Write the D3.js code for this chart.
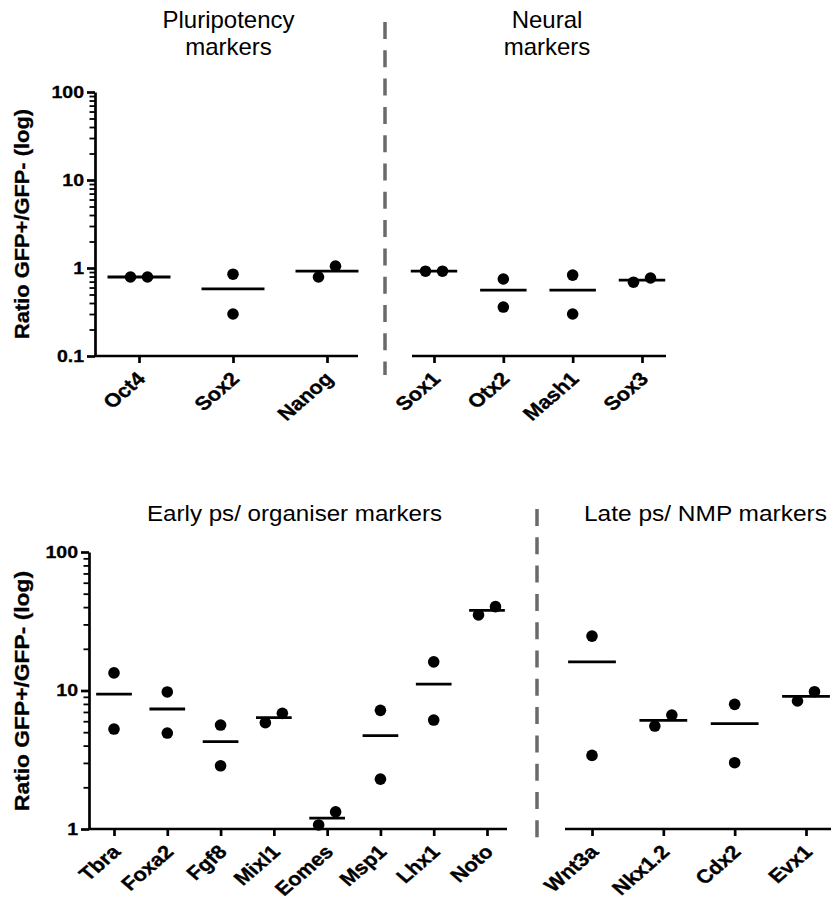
<!DOCTYPE html>
<html>
<head>
<meta charset="utf-8">
<script src="https://cdn.jsdelivr.net/npm/d3@7"></script>
<style>
  html, body { margin: 0; padding: 0; background: #fff; }
  svg { display: block; }
  text { font-family: "Liberation Sans", Arial, Helvetica, sans-serif; fill: #000; }
</style>
</head>
<body>
<svg id="chart" width="831" height="910"></svg>
<script>
// ---------- DATA ----------
const pluriCats  = ["Oct4", "Sox2", "Nanog"];
const pluriRep1  = [0.79, 0.85, 0.79];
const pluriRep2  = [0.79, 0.30, 1.05];
const pluriMean  = [0.79, 0.58, 0.92];

const neuralCats = ["Sox1", "Otx2", "Mash1", "Sox3"];
const neuralRep1 = [0.92, 0.75, 0.83, 0.69];
const neuralRep2 = [0.92, 0.36, 0.30, 0.77];
const neuralMean = [0.92, 0.56, 0.56, 0.73];

const earlyCats  = ["Tbra", "Foxa2", "Fgf8", "Mixl1", "Eomes", "Msp1", "Lhx1", "Noto"];
const earlyRep1  = [13.4, 9.76, 5.63, 5.86, 1.07, 7.19, 16.1, 35.1];
const earlyRep2  = [5.27, 4.93, 2.86, 6.84, 1.33, 2.29, 6.12, 40.3];
const earlyMean  = [9.4, 7.35, 4.27, 6.36, 1.2, 4.72, 11.1, 37.9];

const lateCats   = ["Wnt3a", "Nkx1.2", "Cdx2", "Evx1"];
const lateRep1   = [24.7, 5.54, 7.94, 8.4];
const lateRep2   = [3.4, 6.65, 3.01, 9.8];
const lateMean   = [16.1, 6.09, 5.76, 9.08];

const topTicks    = [0.1, 1, 10, 100];
const bottomTicks = [1, 10, 100];

const titlesTop    = [["Pluripotency", "markers"], ["Neural", "markers"]];
const titlesBottom = ["Early ps/ organiser markers", "Late ps/ NMP markers"];
const yLabel = "Ratio GFP+/GFP- (log)";

// ---------- LAYOUT ----------
const svg = d3.select("#chart");
const AX = 2.7;          // axis stroke width
const R = 5.8;           // dot radius
const DODGE = 8.5;

const yTop = d3.scaleLog().domain([0.1, 100]).range([356, 92]);
const yBot = d3.scaleLog().domain([1, 100]).range([829, 552]);

function minorValues(domain) {
  const out = [];
  for (let d = domain[0]; d < domain[1]; d *= 10) {
    for (let k = 2; k <= 9; k++) out.push(d * k);
  }
  return out;
}

function drawYAxis(y, xPos, ticks, labelCenterY) {
  const g = svg.append("g").attr("transform", `translate(${xPos},0)`);
  // minor ticks
  g.append("g")
    .call(d3.axisLeft(y).tickValues(minorValues(y.domain())).tickSize(5.5).tickSizeOuter(0).tickFormat(""))
    .call(s => s.select(".domain").remove())
    .call(s => s.selectAll("line").attr("stroke", "#000").attr("stroke-width", 1.8));
  // major ticks
  const maj = g.append("g")
    .call(d3.axisLeft(y).tickValues(ticks).tickSize(8).tickSizeOuter(0).tickPadding(1.5).tickFormat(d => String(d)));
  maj.select(".domain").attr("stroke", "#000").attr("stroke-width", AX);
  maj.selectAll(".tick line").attr("stroke", "#000").attr("stroke-width", AX);
  maj.selectAll(".tick text")
    .attr("font-size", 17).attr("font-weight", "bold")
    .attr("font-family", "'Liberation Sans', Arial, sans-serif")
    .attr("stroke", "#000").attr("stroke-width", 0.3)
    .attr("transform", "scale(1.15,1)");
  // y label
  svg.append("text")
    .attr("transform", `translate(29,${labelCenterY}) rotate(-90)`)
    .attr("text-anchor", "middle")
    .attr("font-size", 20).attr("font-weight", "bold")
    .attr("stroke", "#000").attr("stroke-width", 0.3)
    .attr("textLength", labelCenterY < 400 ? 230 : 240)
    .attr("lengthAdjust", "spacingAndGlyphs")
    .text(yLabel);
}

function drawPanel(cats, rep1, rep2, mean, y, first, last, lineStart, lineEnd) {
  const x = d3.scalePoint().domain(cats).range([first, last]);
  const step = x.step();
  const axisY = y.range()[0];
  const g = svg.append("g");

  // x axis line
  g.append("line")
    .attr("x1", lineStart).attr("x2", lineEnd)
    .attr("y1", axisY).attr("y2", axisY)
    .attr("stroke", "#000").attr("stroke-width", AX);

  const xa = g.append("g").attr("transform", `translate(0,${axisY})`)
    .call(d3.axisBottom(x).tickSize(7).tickSizeOuter(0));
  xa.select(".domain").remove();
  xa.selectAll(".tick line").attr("stroke", "#000").attr("stroke-width", AX);
  xa.selectAll(".tick text")
    .attr("font-size", 19).attr("font-weight", "bold")
    .attr("font-family", "'Liberation Sans', Arial, sans-serif")
    .attr("stroke", "#000").attr("stroke-width", 0.35)
    .attr("text-anchor", "end")
    .attr("y", 0).attr("dy", 0)
    .attr("transform", "translate(7,24) scale(1.15,1) rotate(-45)");

  // mean lines
  const half = step * 0.335;
  g.selectAll(".mean").data(cats).enter().append("line")
    .attr("x1", d => x(d) - half).attr("x2", d => x(d) + half)
    .attr("y1", (d, i) => y(mean[i])).attr("y2", (d, i) => y(mean[i]))
    .attr("stroke", "#000").attr("stroke-width", 2.8);

  // dots (dodged horizontally when close together)
  const pts = [];
  cats.forEach((c, i) => {
    const a = rep1[i], b = rep2[i];
    const overlap = Math.abs(y(a) - y(b)) < 2 * R + 4;
    const lo = Math.min(a, b), hi = Math.max(a, b);
    pts.push({ c, v: lo, dx: overlap ? -DODGE : 0 });
    pts.push({ c, v: hi, dx: overlap ? DODGE : 0 });
  });
  g.selectAll(".dot").data(pts).enter().append("circle")
    .attr("cx", d => x(d.c) + d.dx)
    .attr("cy", d => y(d.v))
    .attr("r", R).attr("fill", "#000");
}

function dashed(x, y1, y2) {
  svg.append("line")
    .attr("x1", x).attr("x2", x).attr("y1", y1).attr("y2", y2)
    .attr("stroke", "#6a6a6a").attr("stroke-width", 3.5)
    .attr("stroke-dasharray", "17,11.3");
}

// ---------- TOP ROW ----------
drawYAxis(yTop, 95, topTicks, 224);
drawPanel(pluriCats, pluriRep1, pluriRep2, pluriMean, yTop, 139, 327, 95, 358);
drawPanel(neuralCats, neuralRep1, neuralRep2, neuralMean, yTop, 434, 642, 412, 666);
dashed(385, 22, 375);

const topCenters = [228.5, 547];
titlesTop.forEach((lines, k) => {
  lines.forEach((ln, j) => {
    svg.append("text")
      .attr("x", topCenters[k]).attr("y", 28 + j * 27)
      .attr("text-anchor", "middle").attr("font-size", 24)
      .text(ln);
  });
});

// ---------- BOTTOM ROW ----------
drawYAxis(yBot, 89, bottomTicks, 691);
drawPanel(earlyCats, earlyRep1, earlyRep2, earlyMean, yBot, 114, 487, 89, 507);
drawPanel(lateCats, lateRep1, lateRep2, lateMean, yBot, 592, 806, 565, 831);
dashed(537, 509, 838);

const botCenters = [294.5, 705.5];
const botLengths = [295, 243];
titlesBottom.forEach((t, k) => {
  svg.append("text")
    .attr("x", botCenters[k]).attr("y", 521)
    .attr("text-anchor", "middle").attr("font-size", 22)
    .attr("textLength", botLengths[k]).attr("lengthAdjust", "spacingAndGlyphs")
    .text(t);
});
</script>
</body>
</html>
